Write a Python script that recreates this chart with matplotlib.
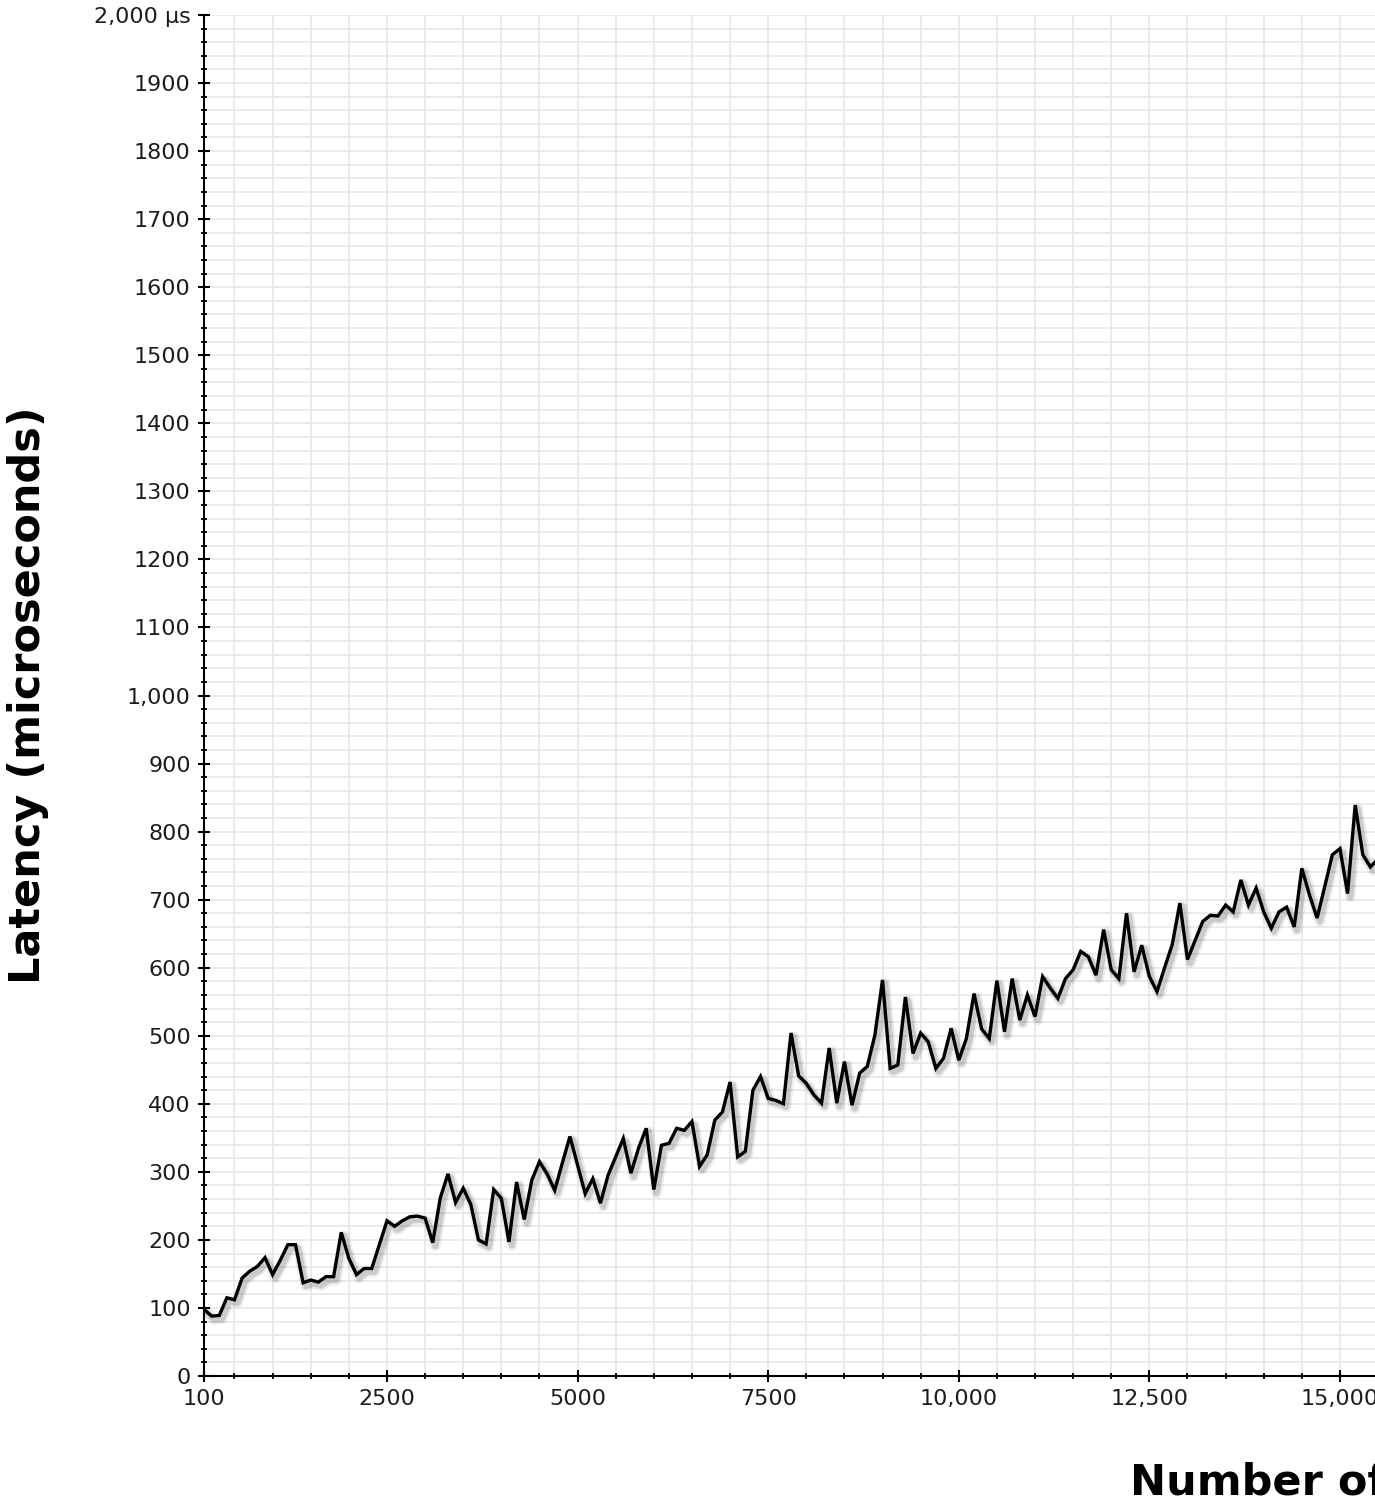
import matplotlib
matplotlib.use("Agg")
import matplotlib.pyplot as plt
import matplotlib.patheffects as pe
from matplotlib.ticker import FixedLocator, FixedFormatter, MultipleLocator

# number of connections, sampled every 100
connections = list(range(100, 15600, 100))

# measured latency in microseconds
latency_us = [
    98, 88, 89, 115, 112, 144, 154, 161, 174, 149,
    170, 193, 193, 137, 141, 138, 146, 146, 211, 173,
    149, 158, 158, 193, 228, 220, 228, 234, 235, 232,
    196, 262, 297, 255, 276, 252, 200, 194, 274, 261,
    197, 285, 230, 288, 315, 297, 273, 313, 352, 310,
    268, 290, 254, 295, 322, 349, 298, 335, 364, 274,
    339, 342, 364, 361, 374, 308, 325, 376, 388, 432,
    322, 330, 420, 440, 408, 405, 400, 504, 441, 430,
    413, 401, 482, 401, 462, 398, 445, 455, 501, 582,
    452, 457, 557, 474, 504, 491, 452, 467, 511, 464,
    496, 562, 510, 496, 581, 506, 584, 523, 560, 528,
    587, 570, 555, 584, 597, 624, 616, 589, 656, 597,
    584, 680, 594, 633, 587, 565, 600, 634, 695, 612,
    640, 668, 677, 676, 692, 682, 729, 692, 717, 682,
    658, 682, 689, 660, 746, 707, 673, 719, 766, 775,
    709, 839, 766, 748, 760,
]

x_ticks = [100, 2500, 5000, 7500, 10000, 12500, 15000]
x_tick_labels = ["100", "2500", "5000", "7500", "10,000", "12,500", "15,000"]
y_ticks = list(range(0, 2001, 100))
y_tick_labels = ["0", "100", "200", "300", "400", "500", "600", "700", "800", "900",
                 "1,000", "1100", "1200", "1300", "1400", "1500", "1600", "1700",
                 "1800", "1900", "2,000 µs"]

plt.rcParams["font.family"] = ["DejaVu Sans"]

fig = plt.figure(figsize=(13.75, 15.03), dpi=100)
ax = fig.add_axes([204 / 1375, 127 / 1503, 1181.7 / 1375, 1361 / 1503])

# soft drop shadow under the series line
shadow = dict(offset=(2, -2.5), shadow_color="black", joinstyle="round", capstyle="round")
ax.plot(connections, latency_us, color="black", linewidth=2.4, solid_joinstyle="miter",
        zorder=3,
        path_effects=[
            pe.SimpleLineShadow(alpha=0.07, linewidth=7.5, **shadow),
            pe.SimpleLineShadow(alpha=0.14, linewidth=4.5, **shadow),
            pe.Normal(),
        ])

ax.set_xlim(100, 15600)
ax.set_ylim(0, 2000)

ax.xaxis.set_major_locator(FixedLocator(x_ticks))
ax.xaxis.set_major_formatter(FixedFormatter(x_tick_labels))
ax.xaxis.set_minor_locator(MultipleLocator(500))
ax.yaxis.set_major_locator(FixedLocator(y_ticks))
ax.yaxis.set_major_formatter(FixedFormatter(y_tick_labels))
ax.yaxis.set_minor_locator(MultipleLocator(20))

ax.grid(which="both", color="#e6e6e6", linewidth=1.1, zorder=0)
ax.set_axisbelow(True)

for side in ("top", "right"):
    ax.spines[side].set_visible(False)
for side in ("left", "bottom"):
    ax.spines[side].set_linewidth(1.5)

ax.tick_params(which="major", direction="inout", length=9, width=1.5,
               labelsize=16, labelcolor="#1c1c24", pad=5)
ax.tick_params(which="minor", direction="inout", length=4.5, width=1.3)

ax.set_ylabel("Latency (microseconds)", fontsize=31, fontweight="bold",
              ha="center", va="center")
ax.yaxis.set_label_coords(-0.1489, 0.5)
ax.set_xlabel("Number of connections", fontsize=31, fontweight="bold",
              ha="left", va="baseline")
ax.xaxis.set_label_coords(0.7836, -0.0874)

fig.savefig("out.png", dpi=100)
